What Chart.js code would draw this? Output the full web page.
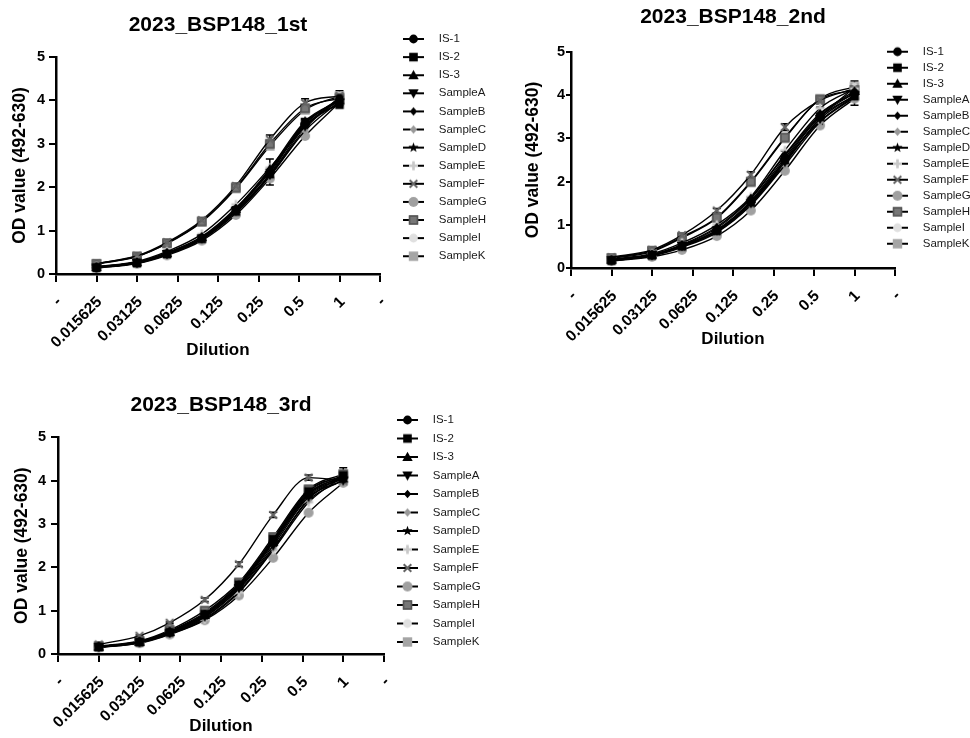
<!DOCTYPE html>
<html>
<head>
<meta charset="utf-8">
<script src="https://cdn.jsdelivr.net/npm/chart.js@4.4.1/dist/chart.umd.min.js"></script>
<style>
  html, body { margin: 0; padding: 0; background: #fff; }
  body { width: 970px; height: 738px; position: relative; overflow: hidden; }
  canvas { position: absolute; }
</style>
</head>
<body>
<canvas id="chart1st" width="490" height="370" style="left:0;top:0"></canvas>
<canvas id="chart2nd" width="480" height="370" style="left:490px;top:0"></canvas>
<canvas id="chart3rd" width="490" height="358" style="left:0;top:380px"></canvas>
<script>
const seriesNames = ['IS-1', 'IS-2', 'IS-3', 'SampleA', 'SampleB', 'SampleC', 'SampleD',
    'SampleE', 'SampleF', 'SampleG', 'SampleH', 'SampleI', 'SampleK'];

// position of each dilution on the x axis (tick units)
const dilutionPos = [1, 2, 2.74, 3.6, 4.44, 5.28, 6.15, 7];
const dilutionLabels = ['-', '0.015625', '0.03125', '0.0625', '0.125', '0.25', '0.5', '1', '-'];
const odTicks = [0, 1, 2, 3, 4, 5];

const od1st = [
    [0.15, 0.26, 0.47, 0.83, 1.48, 2.35, 3.45, 4.05],
    [0.14, 0.25, 0.46, 0.81, 1.44, 2.30, 3.50, 3.90],
    [0.16, 0.27, 0.48, 0.85, 1.50, 2.42, 3.52, 4.00],
    [0.15, 0.26, 0.46, 0.82, 1.46, 2.28, 3.40, 3.95],
    [0.16, 0.27, 0.49, 0.86, 1.52, 2.40, 3.48, 4.02],
    [0.15, 0.25, 0.45, 0.80, 1.40, 2.25, 3.30, 3.98],
    [0.16, 0.27, 0.48, 0.84, 1.49, 2.38, 3.42, 4.00],
    [0.17, 0.29, 0.52, 0.92, 1.60, 2.45, 3.40, 4.05],
    [0.24, 0.42, 0.73, 1.24, 2.03, 3.10, 3.94, 4.10],
    [0.14, 0.24, 0.43, 0.77, 1.36, 2.20, 3.18, 3.95],
    [0.23, 0.40, 0.71, 1.21, 1.99, 3.00, 3.82, 4.05],
    [0.15, 0.26, 0.46, 0.80, 1.42, 2.26, 3.35, 4.08],
    [0.24, 0.41, 0.70, 1.20, 1.97, 2.95, 3.78, 4.10]
];
const od2nd = [
    [0.18, 0.30, 0.52, 0.88, 1.55, 2.55, 3.52, 4.05],
    [0.17, 0.29, 0.50, 0.86, 1.52, 2.50, 3.50, 3.98],
    [0.19, 0.31, 0.53, 0.92, 1.60, 2.60, 3.55, 4.10],
    [0.18, 0.30, 0.51, 0.87, 1.50, 2.45, 3.45, 4.00],
    [0.19, 0.31, 0.54, 0.95, 1.62, 2.62, 3.58, 4.05],
    [0.17, 0.28, 0.48, 0.82, 1.45, 2.38, 3.38, 3.95],
    [0.18, 0.30, 0.50, 0.85, 1.50, 2.48, 3.40, 3.98],
    [0.20, 0.33, 0.58, 1.00, 1.65, 2.72, 3.70, 4.15],
    [0.25, 0.42, 0.76, 1.33, 2.16, 3.26, 3.88, 4.15],
    [0.16, 0.26, 0.42, 0.74, 1.33, 2.25, 3.30, 3.92],
    [0.23, 0.40, 0.72, 1.17, 2.00, 3.02, 3.90, 4.12],
    [0.17, 0.29, 0.50, 0.84, 1.48, 2.42, 3.48, 4.18],
    [0.22, 0.38, 0.70, 1.15, 1.98, 3.00, 3.92, 4.20]
];
const od3rd = [
    [0.17, 0.28, 0.50, 0.90, 1.58, 2.60, 3.70, 4.10],
    [0.16, 0.27, 0.50, 0.92, 1.60, 2.65, 3.75, 4.12],
    [0.17, 0.28, 0.51, 0.90, 1.56, 2.58, 3.68, 4.05],
    [0.16, 0.27, 0.48, 0.86, 1.52, 2.50, 3.62, 4.00],
    [0.17, 0.29, 0.52, 0.92, 1.60, 2.62, 3.72, 4.08],
    [0.16, 0.27, 0.48, 0.85, 1.50, 2.45, 3.55, 4.02],
    [0.17, 0.28, 0.50, 0.88, 1.55, 2.55, 3.65, 4.05],
    [0.15, 0.26, 0.46, 0.80, 1.42, 2.40, 3.50, 4.10],
    [0.22, 0.42, 0.72, 1.25, 2.07, 3.21, 4.07, 4.00],
    [0.15, 0.25, 0.45, 0.78, 1.35, 2.22, 3.26, 3.95],
    [0.18, 0.30, 0.55, 1.00, 1.65, 2.70, 3.80, 4.15],
    [0.16, 0.27, 0.47, 0.82, 1.45, 2.42, 3.58, 4.12],
    [0.17, 0.29, 0.53, 0.95, 1.62, 2.65, 3.78, 4.10]
];

// SD of the replicates, only where error bars show
const sd1stIS1 = [0.01, 0.02, 0.02, 0.04, 0.07, 0.30, 0.12, 0.17];
const sd1stSampleF = [0.01, 0.02, 0.03, 0.05, 0.06, 0.10, 0.10, 0.06];
const sd2ndIS1 = [0.02, 0.03, 0.04, 0.06, 0.10, 0.15, 0.20, 0.28];
const sd2ndSampleF = [0.01, 0.02, 0.03, 0.05, 0.07, 0.08, 0.08, 0.06];
const sd3rdIS1 = [0.01, 0.02, 0.03, 0.05, 0.08, 0.12, 0.12, 0.20];
const sd3rdSampleF = [0.01, 0.02, 0.02, 0.04, 0.05, 0.06, 0.06, 0.05];

const markerStyles = [
    { shape: 'circle', color: '#000' },
    { shape: 'square', color: '#000' },
    { shape: 'triangle', color: '#000' },
    { shape: 'triangleDown', color: '#000' },
    { shape: 'diamond', color: '#000' },
    { shape: 'diamond', color: '#999' },
    { shape: 'star', color: '#000' },
    { shape: 'plus', color: '#c8c8c8' },
    { shape: 'cross', color: '#666' },
    { shape: 'bigCircle', color: '#a0a0a0' },
    { shape: 'squareBorder', color: '#777' },
    { shape: 'circle', color: '#e0e0e0' },
    { shape: 'bigSquare', color: '#a5a5a5' }
];

Chart.defaults.font.family = '"Liberation Sans", Arial, sans-serif';
Chart.defaults.color = '#000';

function drawShape(g, shape, cx, cy, color) {
    g.fillStyle = color;
    g.strokeStyle = color;
    g.beginPath();
    if (shape === 'circle') {
        g.arc(cx, cy, 4.4, 0, Math.PI * 2);
        g.fill();
    } else if (shape === 'bigCircle') {
        g.arc(cx, cy, 5, 0, Math.PI * 2);
        g.fill();
    } else if (shape === 'square') {
        g.fillRect(cx - 4.3, cy - 4.3, 8.6, 8.6);
    } else if (shape === 'bigSquare') {
        g.fillRect(cx - 4.7, cy - 4.7, 9.4, 9.4);
    } else if (shape === 'squareBorder') {
        g.fillRect(cx - 4.7, cy - 4.7, 9.4, 9.4);
        g.strokeStyle = '#555';
        g.lineWidth = 1.5;
        g.strokeRect(cx - 3.9, cy - 3.9, 7.8, 7.8);
    } else if (shape === 'triangle') {
        g.moveTo(cx, cy - 5.2);
        g.lineTo(cx + 5.2, cy + 4);
        g.lineTo(cx - 5.2, cy + 4);
        g.closePath();
        g.fill();
    } else if (shape === 'triangleDown') {
        g.moveTo(cx, cy + 5.2);
        g.lineTo(cx + 5.2, cy - 4);
        g.lineTo(cx - 5.2, cy - 4);
        g.closePath();
        g.fill();
    } else if (shape === 'diamond') {
        g.moveTo(cx, cy - 4.2);
        g.lineTo(cx + 3.7, cy);
        g.lineTo(cx, cy + 4.2);
        g.lineTo(cx - 3.7, cy);
        g.closePath();
        g.fill();
    } else if (shape === 'star') {
        for (let k = 0; k < 10; k++) {
            const r = k % 2 === 0 ? 5.3 : 2.2;
            const a = -Math.PI / 2 + k * Math.PI / 5;
            g.lineTo(cx + r * Math.cos(a), cy + r * Math.sin(a));
        }
        g.closePath();
        g.fill();
    } else if (shape === 'plus') {
        g.fillRect(cx - 4.5, cy - 1.3, 9, 2.6);
        g.fillRect(cx - 1.3, cy - 4.5, 2.6, 9);
    } else if (shape === 'cross') {
        g.lineWidth = 2;
        g.moveTo(cx - 3.8, cy - 3.8);
        g.lineTo(cx + 3.8, cy + 3.8);
        g.moveTo(cx + 3.8, cy - 3.8);
        g.lineTo(cx - 3.8, cy + 3.8);
        g.stroke();
    }
}

function pointMarker(style) {
    const c = document.createElement('canvas');
    c.width = 14;
    c.height = 14;
    drawShape(c.getContext('2d'), style.shape, 7, 7, style.color);
    return c;
}

function legendIcon(style) {
    const c = document.createElement('canvas');
    c.width = 30;
    c.height = 12;
    const g = c.getContext('2d');
    g.strokeStyle = '#000';
    g.lineWidth = 2;
    g.beginPath();
    g.moveTo(0, 6);
    g.lineTo(21, 6);
    g.stroke();
    drawShape(g, style.shape, 10.5, 6, style.color);
    return c;
}

const pointMarkers = markerStyles.map(pointMarker);
const legendIcons = markerStyles.map(legendIcon);

// moves the legend to a fixed spot after layout
const legendPlace = {
    id: 'legendPlace',
    afterLayout(chart, args, opts) {
        const lg = chart.legend;
        if (!lg || opts.x == null) return;
        lg.left = opts.x - opts.gap;
        lg.width = 160;
        lg.right = lg.left + lg.width;
        lg.top = opts.y - opts.gap - opts.fontSize / 2;
        lg.bottom = chart.height;
        lg.height = lg.bottom - lg.top;
    }
};

const errorBars = {
    id: 'errorBars',
    beforeDatasetsDraw(chart) {
        const ctx = chart.ctx;
        const yScale = chart.scales.y;
        ctx.save();
        ctx.strokeStyle = '#000';
        ctx.lineWidth = 1.5;
        chart.data.datasets.forEach((ds, i) => {
            if (!ds.sd) return;
            chart.getDatasetMeta(i).data.forEach((pt, j) => {
                const v = ds.data[j].y;
                const top = yScale.getPixelForValue(v + ds.sd[j]);
                const bot = yScale.getPixelForValue(v - ds.sd[j]);
                ctx.beginPath();
                ctx.moveTo(pt.x, top);
                ctx.lineTo(pt.x, bot);
                ctx.moveTo(pt.x - 4, top);
                ctx.lineTo(pt.x + 4, top);
                ctx.moveTo(pt.x - 4, bot);
                ctx.lineTo(pt.x + 4, bot);
                ctx.stroke();
            });
        });
        ctx.restore();
    }
};

function buildChart(id, title, values, sdIS1, sdF, L) {
    const datasets = seriesNames.map((name, i) => ({
        label: name,
        data: dilutionPos.map((x, j) => ({ x: x, y: values[i][j] })),
        borderColor: '#000',
        borderWidth: 1.4,
        pointStyle: pointMarkers[i],
        pointRadius: 5,
        cubicInterpolationMode: 'monotone',
        sd: i === 0 ? sdIS1 : (i === 8 ? sdF : null)
    }));

    new Chart(document.getElementById(id), {
        type: 'line',
        data: { datasets: datasets },
        plugins: [legendPlace, errorBars],
        options: {
            responsive: false,
            animation: false,
            devicePixelRatio: 1,
            events: [],
            layout: { padding: { left: 0, top: 0, right: L.padRight, bottom: 0 } },
            plugins: {
                title: {
                    display: true,
                    text: title,
                    fullSize: false,
                    color: '#000',
                    font: { size: 21, weight: 'bold' },
                    padding: { top: L.titleTop, bottom: L.titleBottom }
                },
                legend: {
                    position: 'right',
                    align: 'start',
                    maxWidth: 1,
                    labels: {
                        usePointStyle: true,
                        pointStyleWidth: 30,
                        padding: L.legendGap,
                        color: '#1a1a1a',
                        font: { size: 11.5 },
                        generateLabels: () => seriesNames.map((name, i) => ({
                            text: name,
                            pointStyle: legendIcons[i],
                            datasetIndex: i,
                            fontColor: '#1a1a1a',
                            fillStyle: 'transparent',
                            strokeStyle: 'transparent',
                            lineWidth: 0,
                            hidden: false
                        }))
                    }
                },
                legendPlace: { x: L.legendX, y: L.legendY, gap: L.legendGap, fontSize: 11.5 },
                tooltip: { enabled: false }
            },
            scales: {
                x: {
                    type: 'linear',
                    min: 0,
                    max: 8,
                    afterFit: s => { s.height = L.xHeight; },
                    border: { color: '#000', width: 2.5 },
                    grid: { drawOnChartArea: false, tickLength: L.xTick, color: '#000', lineWidth: 2 },
                    ticks: {
                        stepSize: 1,
                        autoSkip: false,
                        minRotation: 45,
                        maxRotation: 45,
                        padding: 11,
                        labelOffset: 3,
                        color: '#000',
                        font: { size: 15.5, weight: 'bold' },
                        callback: v => dilutionLabels[Math.round(v)]
                    },
                    title: {
                        display: true,
                        text: 'Dilution',
                        color: '#000',
                        font: { size: 17, weight: 'bold' },
                        padding: { top: 0, bottom: L.xTitlePad }
                    }
                },
                y: {
                    min: odTicks[0],
                    max: odTicks[odTicks.length - 1],
                    afterFit: s => { s.width = L.yWidth; },
                    afterBuildTicks: s => { s.ticks = odTicks.map(v => ({ value: v })); },
                    border: { color: '#000', width: 2.5 },
                    grid: { drawOnChartArea: false, tickLength: L.yTick, color: '#000', lineWidth: 2 },
                    ticks: {
                        padding: L.yTickPad,
                        color: '#000',
                        font: { size: 14.5, weight: 'bold' }
                    },
                    title: {
                        display: true,
                        text: 'OD value (492-630)',
                        color: '#000',
                        font: { size: 17.5, weight: 'bold' },
                        padding: { top: L.yTitlePad, bottom: 0 }
                    }
                }
            }
        }
    });
}

buildChart('chart1st', '2023_BSP148_1st', od1st, sd1stIS1, sd1stSampleF, {
    padRight: 109, titleTop: 12.4, titleBottom: 19.4, xHeight: 96, yWidth: 56,
    xTick: 8, yTick: 7, yTickPad: 4, xTitlePad: 9.8, yTitlePad: 9.5,
    legendX: 403, legendY: 39, legendGap: 6.6
});
buildChart('chart2nd', '2023_BSP148_2nd', od2nd, sd2ndIS1, sd2ndSampleF, {
    padRight: 74, titleTop: 4.4, titleBottom: 22.4, xHeight: 102, yWidth: 81,
    xTick: 8, yTick: 5, yTickPad: 1, xTitlePad: 20.8, yTitlePad: 32.5,
    legendX: 397, legendY: 51.7, legendGap: 4.5
});
buildChart('chart3rd', '2023_BSP148_3rd', od3rd, sd3rdIS1, sd3rdSampleF, {
    padRight: 105, titleTop: 12.4, titleBottom: 19.7, xHeight: 84, yWidth: 58,
    xTick: 8, yTick: 7, yTickPad: 5, xTitlePad: 1.1, yTitlePad: 11.2,
    legendX: 397, legendY: 40, legendGap: 7
});
</script>
</body>
</html>
